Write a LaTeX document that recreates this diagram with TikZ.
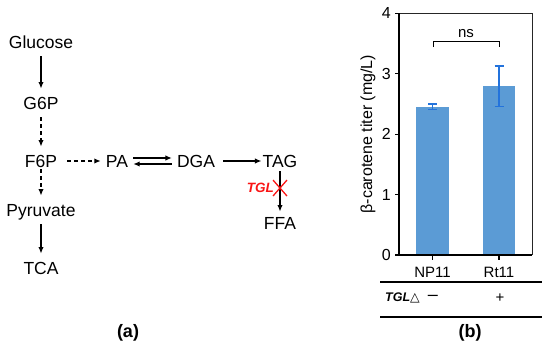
\documentclass[tikz,border=0pt]{standalone}
\usepackage{fontspec}
\setmainfont{Liberation Sans}
\newfontfamily\symbolfont{DejaVu Sans}
\usetikzlibrary{arrows.meta,positioning}
\definecolor{barblue}{RGB}{91,155,213}
\definecolor{errblue}{RGB}{35,115,220}
\definecolor{knockred}{RGB}{250,20,20}

\begin{document}
\begin{tikzpicture}[x=1pt,y=-1pt,
  met/.style={font=\fontsize{17.5}{21}\selectfont,text height=12.5pt,text depth=0pt,inner xsep=5pt,inner ysep=8pt},
  arrow/.style={-{Latex[length=6.5pt,width=5.5pt]},line width=1.4pt},
  dasharrow/.style={arrow,dash pattern=on 4pt off 3pt},
  knock/.style={draw=knockred,line width=1.3pt},
  genelabel/.style={font=\fontsize{13.5}{16}\selectfont\bfseries\itshape,text=knockred,inner sep=0pt},
  ticklabel/.style={font=\fontsize{15}{18}\selectfont,text depth=0pt,inner sep=0pt},
  axisline/.style={line width=1.2pt},
  frameline/.style={line width=0.9pt,draw=black!85},
  errbar/.style={draw=errblue,line width=1.1pt},
  rule/.style={line width=1.2pt},
  panel/.style={font=\fontsize{18}{21}\selectfont\bfseries,inner sep=0pt}]
  \useasboundingbox (0,0) rectangle (550,354);
  % (a) pathway
  \node[met] (glucose) at (41,42) {Glucose};
  \node[met] (g6p) at (41,103) {G6P};
  \node[met] (f6p) at (41,161) {F6P};
  \node[met] (pyruvate) at (41,210) {Pyruvate};
  \node[met] (tca) at (41,268) {TCA};
  \node[met] (pa) at (117,161) {PA};
  \node[met] (dga) at (196,161) {DGA};
  \node[met] (tag) at (280,161) {TAG};
  \node[met] (ffa) at (280,223) {FFA};
  \draw[arrow] (glucose) -- (g6p);
  \draw[dasharrow] (g6p) -- (f6p);
  \draw[dasharrow,shorten <=-6pt] (f6p) -- (pyruvate);
  \draw[arrow] (pyruvate) -- (tca);
  \draw[dasharrow,shorten <=5pt] (f6p) -- (pa);
  \draw[arrow] ([yshift=3pt]pa.east) -- ([yshift=3pt]dga.west);
  \draw[arrow] ([yshift=-3pt]dga.west) -- ([yshift=-3pt]pa.east);
  \draw[arrow,shorten <=3pt,shorten >=-4pt] (dga) -- (tag);
  \draw[arrow,shorten <=-4pt,shorten >=-3pt] (tag) -- coordinate[pos=0.38] (block) (ffa);
  \draw[knock] ([shift={(-7,-8)}]block) -- ([shift={(7,8)}]block);
  \draw[knock] ([shift={(-7,8)}]block) -- ([shift={(7,-8)}]block);
  \node[genelabel,left=6pt of block] (tgl) {TGL};
  \node[panel] (panela) at (128,333) {(a)};
  % (b) bar chart
  \begin{scope}[shift={(399,255)},x=1pt,y=60.4pt]
    \fill[barblue] (17,0) rectangle (50,2.455);
    \fill[barblue] (84,0) rectangle (116,2.79);
    \draw[errbar] (33.5,2.41) -- (33.5,2.50);
    \draw[errbar] (29,2.41) -- (38,2.41) (29,2.50) -- (38,2.50);
    \draw[errbar] (100,2.455) -- (100,3.13);
    \draw[errbar] (95.5,2.455) -- (104.5,2.455) (95.5,3.13) -- (104.5,3.13);
    \draw[frameline] (0,4) -- (133,4) -- (133,0);
    \draw[axisline] (0,4) -- (0,0) -- (133,0);
    \foreach \v in {0,...,4} {
      \draw[axisline] (-4,\v) -- (0,\v);
      \node[ticklabel,font=\fontsize{16}{19}\selectfont,anchor=east] (ytick\v) at (-8,\v) {\v};
    }
    \draw[axisline] (33.5,0) -- (33.5,-0.08);
    \draw[axisline] (100,0) -- (100,-0.08);
    \node[ticklabel,anchor=base] (np11) at (33.5,-0.376) {NP11};
    \node[ticklabel,anchor=base] (rt11) at (100,-0.376) {Rt11};
    \node[font=\fontsize{16}{19}\selectfont,rotate=90,inner sep=0pt] (ylabel) at (-31,2.0) {β-carotene titer (mg/L)};
    \draw[line width=1pt] (34,3.44) -- (34,3.54) -- (100,3.54) -- (100,3.44);
    \node[ticklabel,anchor=base] (ns) at (67,3.6) {ns};
  \end{scope}
  \draw[rule] (380,282) -- (542,282);
  \draw[rule] (380,317) -- (542,317);
  \node[font=\fontsize{12.5}{15}\selectfont,anchor=west,inner sep=0pt] (tglrow) at (385,298) {\textbf{\textit{TGL}}{\symbolfont △}};
  \node[font=\fontsize{18}{20}\selectfont,inner sep=0pt] (minus) at (433,298) {–};
  \node[font=\fontsize{15}{17}\selectfont,inner sep=0pt] (plus) at (500,298) {+};
  \node[panel] (panelb) at (470,333) {(b)};
\end{tikzpicture}
\end{document}
